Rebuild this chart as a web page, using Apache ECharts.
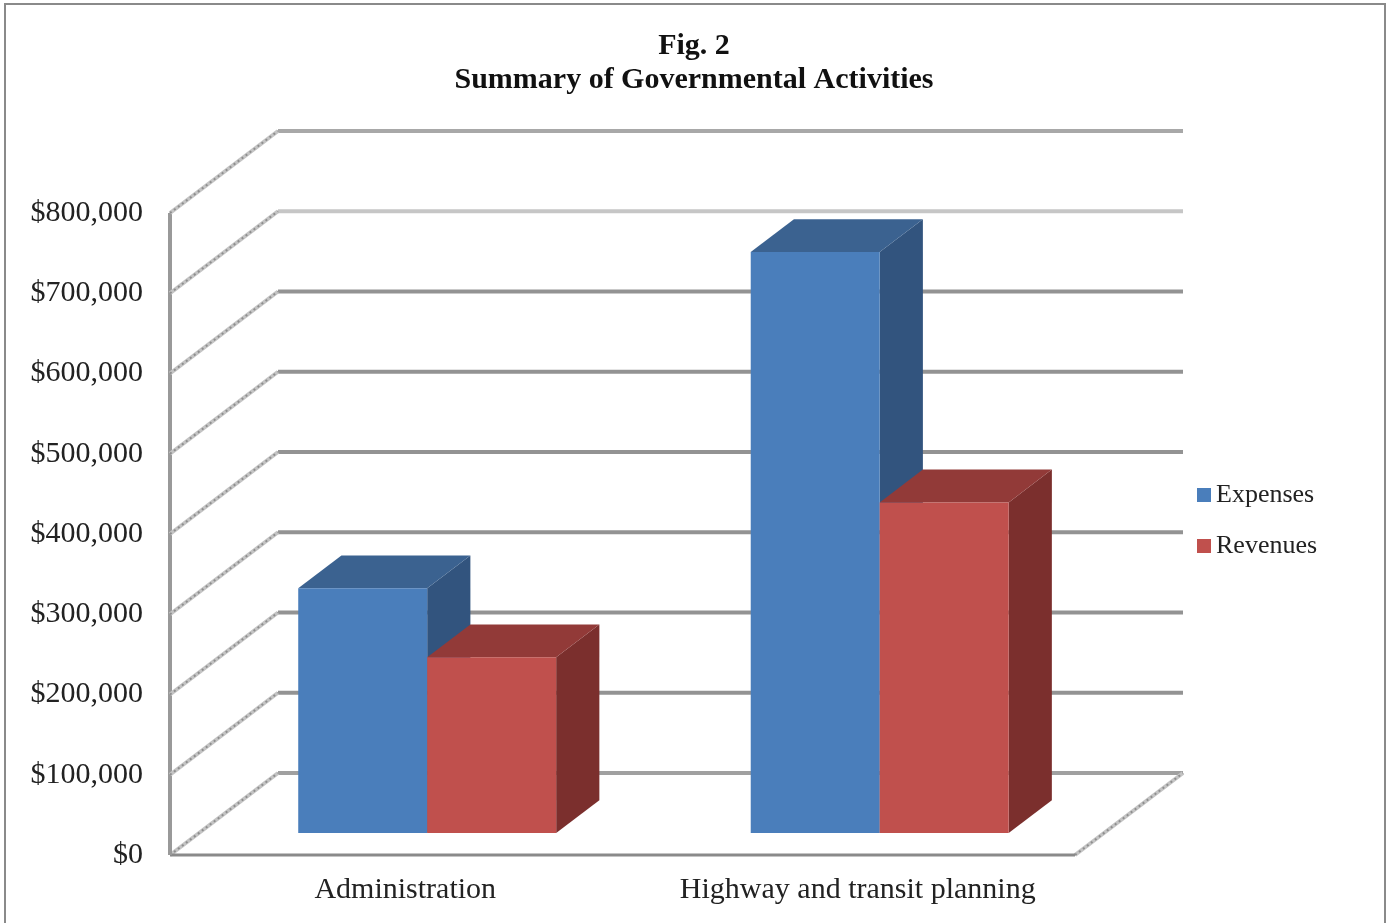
<!DOCTYPE html>
<html><head><meta charset="utf-8">
<script src="https://cdn.jsdelivr.net/npm/echarts@6/dist/echarts.min.js"></script>
<style>html,body{margin:0;padding:0;background:#fff}#c{width:1388px;height:923px}</style>
</head><body><div id="c"></div>
<script>
// ---- data ----
const categories = ['Administration', 'Highway and transit planning'];
const seriesNames = ['Expenses', 'Revenues'];
const expenses = [305000, 724000];
const revenues = [219000, 412000];
const yTicks = [0, 100000, 200000, 300000, 400000, 500000, 600000, 700000, 800000];
const titleText = 'Fig. 2\nSummary of Governmental Activities';

// ---- 3D projection / style constants ----
const DEPTH = [108, -82];       // wall depth vector in px
const BAR_FRONT = 0.268;        // bar front plane (fraction of depth)
const BAR_DEPTH = 0.40;         // bar depth (fraction of depth)
const BAR_FRAC = 0.285;         // bar width as fraction of category band
const BAR_SHIFT = 2;            // small horizontal nudge of the bar group
const FONT = "'Liberation Serif','Times New Roman',serif";
const palette = {
  Expenses: { front: '#4A7EBB', top: '#3B6290', side: '#32547E' },
  Revenues: { front: '#C0504D', top: '#923A38', side: '#7B2F2D' }
};
const gridColors = { 0: '#a0a0a0', 700000: '#c6c6c6', 800000: '#a8a8a8' };

function barRenderer(sIdx, col) {
  return function (params, api) {
    const ci = api.value(0), v = api.value(1);
    const base = api.coord([ci, 0]);
    const top = api.coord([ci, v]);
    const band = api.size([1, 0])[0];
    const w = band * BAR_FRAC;
    const x0 = base[0] - w + sIdx * w + DEPTH[0] * BAR_FRONT + BAR_SHIFT;
    const off = DEPTH[1] * BAR_FRONT;
    const yb = base[1] + off, yt = top[1] + off;
    const dx = DEPTH[0] * BAR_DEPTH, dy = DEPTH[1] * BAR_DEPTH;
    return {
      type: 'group',
      children: [
        { type: 'polygon', shape: { points: [[x0 + w, yt], [x0 + w + dx, yt + dy], [x0 + w + dx, yb + dy], [x0 + w, yb]] }, style: { fill: col.side } },
        { type: 'polygon', shape: { points: [[x0, yt], [x0 + w, yt], [x0 + w + dx, yt + dy], [x0 + dx, yt + dy]] }, style: { fill: col.top } },
        { type: 'rect', shape: { x: x0, y: yt, width: w, height: yb - yt }, style: { fill: col.front } }
      ]
    };
  };
}

function diag(x1, y1, x2, y2) {
  return [
    { type: 'line', shape: { x1, y1, x2, y2 }, style: { stroke: '#c4c4c4', lineWidth: 4 } },
    { type: 'line', shape: { x1, y1, x2, y2 }, style: { stroke: '#8e8e8e', lineWidth: 2, lineDash: [2, 3] } }
  ];
}

function wallRenderer(params, api) {
  const cs = params.coordSys;
  const v = api.value(1);
  const y = api.coord([0, v])[1];
  const left = cs.x, right = cs.x + cs.width;
  const children = [];
  children.push({ type: 'line', shape: { x1: left + DEPTH[0], y1: y + DEPTH[1], x2: right + DEPTH[0], y2: y + DEPTH[1] },
    style: { stroke: gridColors[v] || '#939393', lineWidth: 4 } });
  children.push(...diag(left, y, left + DEPTH[0], y + DEPTH[1]));
  if (v === 0) {
    children.push(...diag(right, y, right + DEPTH[0], y + DEPTH[1]));
    children.push({ type: 'line', shape: { x1: left, y1: y, x2: right, y2: y }, style: { stroke: '#8a8a8a', lineWidth: 3 } });
    children.push({ type: 'line', shape: { x1: left, y1: cs.y, x2: left, y2: cs.y + cs.height }, style: { stroke: '#999999', lineWidth: 4 } });
  }
  return { type: 'group', children };
}

const chart = echarts.init(document.getElementById('c'));
chart.setOption({
  backgroundColor: '#ffffff',
  animation: false,
  title: {
    text: titleText, left: 'center', top: 24,
    textStyle: { fontFamily: FONT, fontSize: 30, fontWeight: 'bold', color: '#111', lineHeight: 34 }
  },
  legend: {
    data: seriesNames, orient: 'vertical', left: 1192, top: 477,
    icon: 'rect', itemWidth: 14, itemHeight: 14, itemGap: 25,
    textStyle: { fontFamily: FONT, fontSize: 26, color: '#222', lineHeight: 26 }
  },
  graphic: [{ type: 'rect', shape: { x: 5, y: 4, width: 1380, height: 925 }, style: { fill: 'none', stroke: '#8a8a8a', lineWidth: 2 }, silent: true }],
  grid: { left: 170, top: 213, width: 905, height: 642, containLabel: false },
  xAxis: {
    type: 'category', data: categories,
    axisLine: { show: false }, axisTick: { show: false }, splitLine: { show: false },
    axisLabel: { interval: 0, fontFamily: FONT, fontSize: 30, color: '#222', margin: 20, padding: [0, 0, 0, 18] }
  },
  yAxis: {
    type: 'value', min: 0, max: yTicks[yTicks.length - 1], interval: yTicks[1] - yTicks[0],
    axisLine: { show: false }, axisTick: { show: false }, splitLine: { show: false },
    axisLabel: { fontFamily: FONT, fontSize: 30, color: '#222', margin: 27, padding: [4, 0, 0, 0],
      formatter: v => '$' + v.toLocaleString('en-US') }
  },
  series: [
    { type: 'custom', name: '_walls', renderItem: wallRenderer, data: yTicks.map(v => [0, v]), encode: { x: 0, y: 1 }, silent: true, z: 1 },
    { type: 'custom', name: seriesNames[0], renderItem: barRenderer(0, palette.Expenses), itemStyle: { color: palette.Expenses.front },
      data: categories.map((c, i) => [i, expenses[i]]), encode: { x: 0, y: 1 }, z: 2 },
    { type: 'custom', name: seriesNames[1], renderItem: barRenderer(1, palette.Revenues), itemStyle: { color: palette.Revenues.front },
      data: categories.map((c, i) => [i, revenues[i]]), encode: { x: 0, y: 1 }, z: 3 }
  ]
});
</script>
</body></html>
